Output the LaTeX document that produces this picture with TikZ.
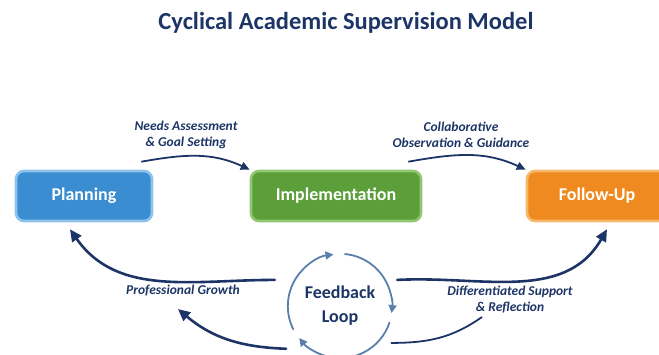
\documentclass[tikz,border=0pt]{standalone}
\usepackage{fontspec}
\setmainfont{Carlito}
\usetikzlibrary{arrows.meta, positioning, calc}
\definecolor{cnavy}{HTML}{1D3566}
\definecolor{cblue}{HTML}{3B8DD2}
\definecolor{cbluel}{HTML}{8EC4EB}
\definecolor{cgreen}{HTML}{5B9E3A}
\definecolor{cgreenl}{HTML}{92C673}
\definecolor{corange}{HTML}{EE8A20}
\definecolor{corangel}{HTML}{F7B86E}
\definecolor{csteel}{HTML}{5A7FA9}
\tikzset{
  every picture/.style={font=\bfseries, x=1pt, y=-1pt},
  stage/.style={fill=#1, rounded corners=8pt, line width=2.6pt, minimum height=50pt,
    text=white, font=\bfseries\fontsize{18}{20}\selectfont},
  flow/.style={-{Triangle[length=12pt, width=11pt]}, draw=cnavy, line width=2.6pt, line cap=round},
  thin flow/.style={-{Triangle[length=9pt, width=8pt]}, draw=cnavy, line width=1.8pt},
  cycle/.style={draw=csteel, line width=1.8pt, -{Triangle[length=8pt, width=8pt]}},
  tag/.style={text=cnavy, font=\bfseries\itshape\fontsize{13.5}{16}\selectfont, align=center},
}
\begin{document}
\begin{tikzpicture}
  \useasboundingbox (0,0) rectangle (659,354);
  \clip (0,0) rectangle (659,354);
  \node[text=cnavy, font=\bfseries\fontsize{24.5}{28}\selectfont] (title) at (346,23) {Cyclical Academic Supervision Model};
  % the three stages
  \node[stage=cblue, draw=cbluel, minimum width=136pt] (plan) at (84,196) {Planning};
  \node[stage=cgreen, draw=cgreenl, minimum width=170pt] (impl) at (336,196) {Implementation};
  \node[stage=corange, draw=corangel, minimum width=140pt] (follow) at (597,196) {Follow-Up};
  % forward arrows with their labels
  \node[tag] (needs) at (186,135) {Needs Assessment\\\& Goal Setting};
  \node[tag] (collab) at (461,135) {Collaborative\\Observation \& Guidance};
  \draw[thin flow] ([xshift=-12pt,yshift=8pt]plan.north east) to[out=10, in=155] (impl.north west);
  \draw[thin flow] ([xshift=-14pt,yshift=8pt]impl.north east) to[out=10, in=155] (follow.north west);
  % feedback loop in the middle
  \node[circle, minimum size=104pt, text=cnavy, align=center, font=\bfseries\fontsize{18}{24}\selectfont] (loop) at (340,306) {Feedback\\Loop};
  \draw[cycle] (loop.207) arc[start angle=207, end angle=97, radius=52pt];
  \draw[cycle] (loop.85) arc[start angle=85, end angle=-8, radius=52pt];
  \draw[cycle] (loop.-18) arc[start angle=-18, end angle=-142, radius=52pt];
  % arrows leaving the loop
  \node[tag] (growth) at (183,291) {Professional Growth};
  \node[tag] (support) at (510,300) {Differentiated Support\\\& Reflection};
  \coordinate (supend) at (482,317);
  \draw[flow] ([xshift=-20pt]loop.150) to[out=180, in=-55] ([xshift=-14pt,yshift=-7pt]plan.south);
  \draw[flow] ([xshift=-24pt]loop.235) to[out=178, in=-40] ([xshift=-5pt,yshift=-9pt]growth.south);
  \draw[flow] ([xshift=12pt]loop.30) to[out=3, in=240] ([xshift=10pt,yshift=-7pt]follow.south);
  \draw[draw=cnavy, line width=1.8pt] ([xshift=14pt]loop.-45) to[out=0, in=215] (supend);
\end{tikzpicture}
\end{document}
